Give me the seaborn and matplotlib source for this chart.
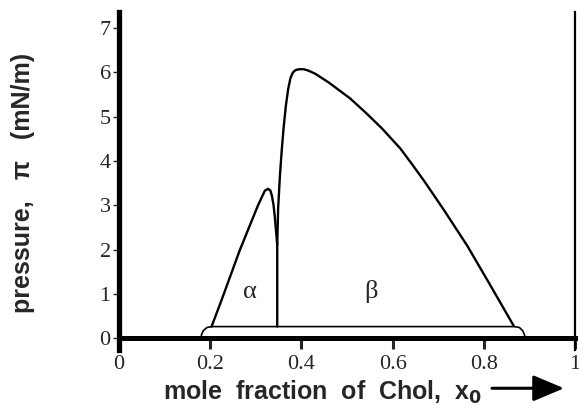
import matplotlib.pyplot as plt
import pandas as pd
import seaborn as sns

# alpha region outline (left branch, peak, drop to the cusp, vertical down to baseline)
alpha_x = [0.203, 0.225, 0.247, 0.264, 0.284, 0.305, 0.315, 0.320, 0.327, 0.332, 0.335, 0.339,
           0.342, 0.345, 0.347, 0.347]
alpha_y = [0.26, 0.86, 1.48, 1.96, 2.47, 3.00, 3.22, 3.33, 3.37, 3.33, 3.23, 3.00,
           2.70, 2.35, 2.10, 0.26]

# beta region outline (cusp up to the peak, then down to the baseline)
beta_x = [0.347, 0.349, 0.353, 0.357, 0.361, 0.366, 0.371, 0.376, 0.381, 0.387, 0.395, 0.405,
          0.415, 0.430, 0.460, 0.507, 0.542, 0.577, 0.617, 0.643, 0.669, 0.712, 0.764, 0.815, 0.866]
beta_y = [2.10, 2.93, 3.68, 4.25, 4.75, 5.25, 5.62, 5.87, 5.99, 6.05, 6.07, 6.07,
          6.04, 5.97, 5.77, 5.41, 5.08, 4.73, 4.28, 3.92, 3.55, 2.90, 2.08, 1.18, 0.27]

# low-pressure baseline with rounded ends
base_x = [0.180, 0.181, 0.185, 0.193, 0.203, 0.866, 0.878, 0.885, 0.889, 0.891]
base_y = [0.00, 0.08, 0.17, 0.24, 0.26, 0.26, 0.24, 0.17, 0.08, 0.00]

x_ticks = [0, 0.2, 0.4, 0.6, 0.8, 1]
x_ticklabels = ['0', '0.2', '0.4', '0.6', '0.8', '1']
y_ticks = [0, 1, 2, 3, 4, 5, 6, 7]

sns.set_style('white')
plt.rcParams['font.family'] = ['Liberation Serif', 'DejaVu Serif']

alpha_df = pd.DataFrame({'x': alpha_x, 'y': alpha_y})
beta_df = pd.DataFrame({'x': beta_x, 'y': beta_y})
base_df = pd.DataFrame({'x': base_x, 'y': base_y})

fig = plt.figure(figsize=(5.79, 4.08), dpi=100)
ax = fig.add_axes([0.2055, 0.142, 0.7876, 0.8284])

sns.lineplot(ax=ax, data=alpha_df, x='x', y='y', sort=False, estimator=None, color='black', lw=1.7)
sns.lineplot(ax=ax, data=beta_df, x='x', y='y', sort=False, estimator=None, color='black', lw=1.7)
sns.lineplot(ax=ax, data=base_df, x='x', y='y', sort=False, estimator=None, color='black', lw=1.2,
             clip_on=False)

ax.set_xlim(0, 1)
ax.set_ylim(-0.27, 7.36)
ax.set_xticks(x_ticks)
ax.set_xticklabels(x_ticklabels)
ax.set_yticks(y_ticks)

ax.spines['top'].set_visible(False)
ax.spines['bottom'].set_position(('data', 0))
ax.spines['bottom'].set_linewidth(3.6)
ax.spines['left'].set_linewidth(3.8)
ax.spines['right'].set_linewidth(1.6)
for s in ['bottom', 'left', 'right']:
    ax.spines[s].set_color('black')

ax.tick_params(axis='x', direction='out', length=8, width=2.2, pad=4, labelsize=16, bottom=True)
ax.tick_params(axis='y', direction='out', length=4, width=1.0, pad=2, labelsize=16, left=True)

ax.text(0.287, 1.05, 'α', fontsize=19, ha='center', va='center')
ax.text(0.553, 1.05, 'β', fontsize=19, ha='center', va='center')

ax.set_xlabel('mole  fraction  of  Chol,  x$_\\mathbf{0}$', family='Liberation Sans', fontweight='bold',
              fontsize=18, va='center')
ax.xaxis.set_label_coords(0.447, -0.124)
ax.set_ylabel('pressure,   π   (mN/m)', family='Liberation Sans', fontweight='bold', fontsize=18,
              va='center')
ax.yaxis.set_label_coords(-0.21, 0.494)

ax.annotate('', xy=(0.976, -0.113), xytext=(0.818, -0.113), xycoords='axes fraction',
            annotation_clip=False,
            arrowprops=dict(arrowstyle='-|>,head_length=1.9,head_width=0.8', mutation_scale=10,
                            lw=2.2, color='black', shrinkA=0, shrinkB=0))

plt.savefig('out.png', dpi=100)
